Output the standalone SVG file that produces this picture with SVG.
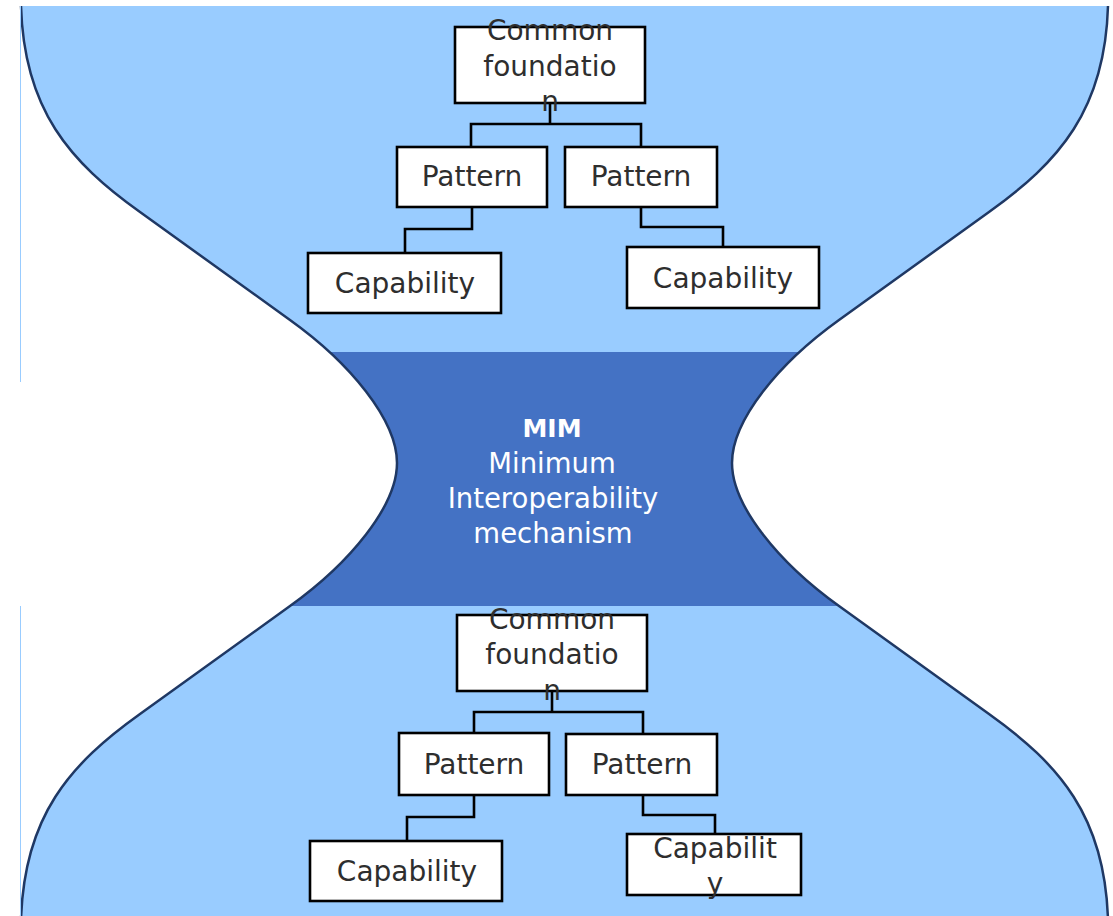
<svg xmlns="http://www.w3.org/2000/svg" width="1113" height="916" viewBox="0 0 1113 916">
<style>
.box{fill:#ffffff;stroke:#000000;stroke-width:2.6}
.lbl{font-family:"DejaVu Sans",sans-serif;font-size:28px;fill:#2e2e2e;text-anchor:middle}
.mim{font-family:"DejaVu Sans",sans-serif;font-size:27.5px;fill:#ffffff;text-anchor:middle}
.edge{fill:none;stroke:#000000;stroke-width:2.6}
.outline{fill:none;stroke:#1f3864;stroke-width:2.5}
</style>
<defs>
<clipPath id="hg">
<path d="M21,6 L1108,6 C1105,110 1059,162 989,212 L839,320 C779,363 732,420 732,463 C732,506 779,563 839,606 L989,714 C1059,764 1105,816 1108,920 L21,920 C24,816 70,764 140,714 L290,606 C350,563 397,506 397,463 C397,420 350,363 290,320 L140,212 C70,162 24,110 21,6 Z"/>
</clipPath>
</defs>
<rect x="0" y="0" width="1113" height="916" fill="#ffffff"/>
<g id="hourglass">
<path fill="#99ccff" d="M21,6 L1108,6 C1105,110 1059,162 989,212 L839,320 C779,363 732,420 732,463 C732,506 779,563 839,606 L989,714 C1059,764 1105,816 1108,920 L21,920 C24,816 70,764 140,714 L290,606 C350,563 397,506 397,463 C397,420 350,363 290,320 L140,212 C70,162 24,110 21,6 Z"/>
<rect x="0" y="352" width="1113" height="254" fill="#4472c4" clip-path="url(#hg)"/>
<path class="outline" d="M21,6 C24,110 70,162 140,212 L290,320 C350,363 397,420 397,463 C397,506 350,563 290,606 L140,714 C70,764 24,816 21,920"/>
<path class="outline" d="M1108,6 C1105,110 1059,162 989,212 L839,320 C779,363 732,420 732,463 C732,506 779,563 839,606 L989,714 C1059,764 1105,816 1108,920"/>
<line x1="20.5" y1="6" x2="20.5" y2="382" stroke="#99ccff" stroke-width="1"/>
<line x1="20.5" y1="606" x2="20.5" y2="916" stroke="#99ccff" stroke-width="1"/>
</g>
<g id="mim">
<text x="552" y="437" font-family="DejaVu Sans, sans-serif" font-size="25" font-weight="bold" fill="#ffffff" text-anchor="middle">MIM</text>
<text class="mim" x="552" y="473">Minimum</text>
<text class="mim" x="553" y="508">Interoperability</text>
<text class="mim" x="553" y="543">mechanism</text>
</g>
<g id="top-foundation">
<rect class="box" x="455" y="27" width="190" height="76"/>
<text class="lbl" x="550" y="40">Common</text>
<text class="lbl" x="550" y="75.5">foundatio</text>
<text class="lbl" x="550" y="110.5">n</text>
</g>
<g id="top-pattern-left">
<rect class="box" x="397" y="147" width="150" height="60"/>
<text class="lbl" x="472" y="186">Pattern</text>
</g>
<g id="top-pattern-right">
<rect class="box" x="565" y="147" width="152" height="60"/>
<text class="lbl" x="641" y="186">Pattern</text>
</g>
<g id="top-capability-left">
<rect class="box" x="308" y="253" width="193" height="60"/>
<text class="lbl" x="405" y="292.5">Capability</text>
</g>
<g id="top-capability-right">
<rect class="box" x="627" y="247" width="192" height="61"/>
<text class="lbl" x="723" y="288">Capability</text>
</g>
<g id="bottom-foundation">
<rect class="box" x="457" y="615" width="190" height="76"/>
<text class="lbl" x="552" y="628.5">Common</text>
<text class="lbl" x="552" y="664">foundatio</text>
<text class="lbl" x="552" y="700">n</text>
</g>
<g id="bottom-pattern-left">
<rect class="box" x="399" y="733" width="150" height="62"/>
<text class="lbl" x="474" y="774">Pattern</text>
</g>
<g id="bottom-pattern-right">
<rect class="box" x="566" y="734" width="151" height="61"/>
<text class="lbl" x="642" y="774">Pattern</text>
</g>
<g id="bottom-capability-left">
<rect class="box" x="310" y="841" width="192" height="60"/>
<text class="lbl" x="407" y="881">Capability</text>
</g>
<g id="bottom-capability-right">
<rect class="box" x="627" y="834" width="174" height="61"/>
<text class="lbl" x="715" y="858">Capabilit</text>
<text class="lbl" x="715" y="893">y</text>
</g>
<g id="connectors">
<path class="edge" stroke-width="4.5" d="M550,103 V124"/>
<path class="edge" d="M471,147 V124 H641 V147"/>
<path class="edge" d="M472,207 V229 H405 V253"/>
<path class="edge" d="M641,207 V227 H723 V247"/>
<path class="edge" stroke-width="4.5" d="M552,691 V712"/>
<path class="edge" d="M474,733 V712 H643 V734"/>
<path class="edge" d="M474,795 V817 H407 V841"/>
<path class="edge" d="M643,795 V815 H715 V834"/>
</g>
</svg>
